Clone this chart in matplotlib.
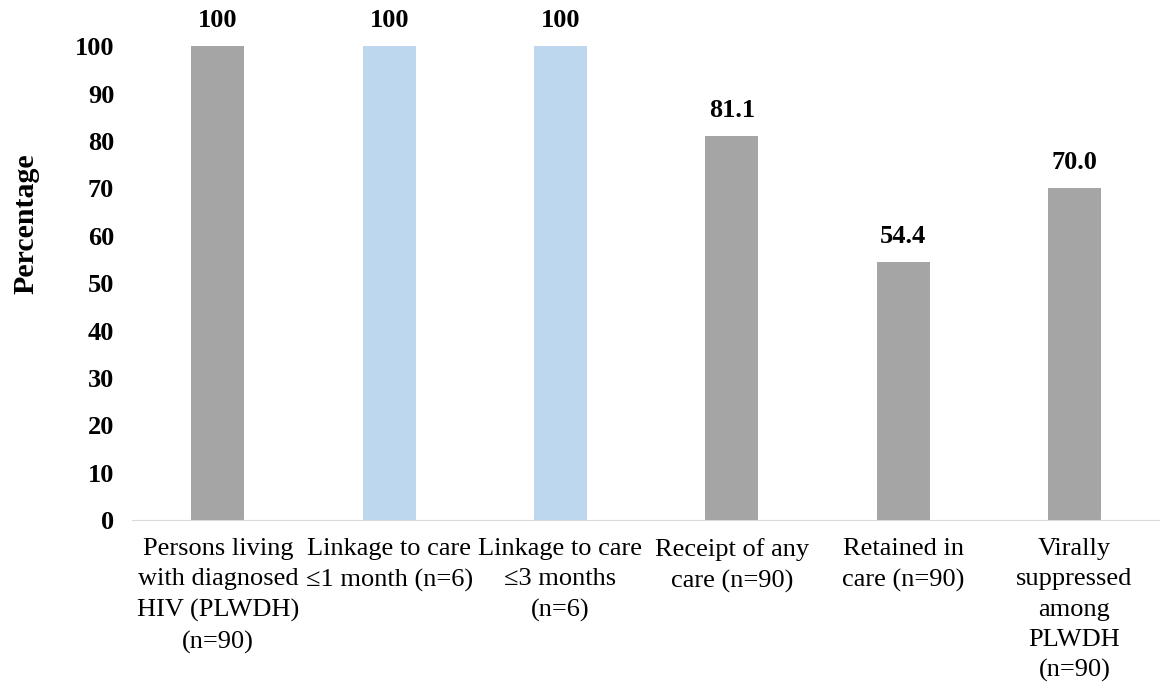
import numpy as np
import matplotlib.pyplot as plt

categories = ["Persons living\nwith diagnosed\nHIV (PLWDH)\n(n=90)",
              "Linkage to care\n\u22641 month (n=6)",
              "Linkage to care\n\u22643 months\n(n=6)",
              "Receipt of any\ncare (n=90)",
              "Retained in\ncare (n=90)",
              "Virally\nsuppressed\namong\nPLWDH\n(n=90)"]
values = [100, 100, 100, 81.1, 54.4, 70.0]
value_labels = ["100", "100", "100", "81.1", "54.4", "70.0"]
colors = ["#A5A5A5", "#BDD7EE", "#BDD7EE", "#A5A5A5", "#A5A5A5", "#A5A5A5"]

plt.rcParams["font.family"] = ["Liberation Serif", "DejaVu Serif"]

fig = plt.figure(figsize=(11.6, 6.89), dpi=100)
ax = fig.add_axes([0.114, 0.245, 0.886, 0.688])

x_pos = np.arange(len(categories))
bars = ax.bar(x_pos, values, width=0.31, color=colors)

for b, lab in zip(bars, value_labels):
    ax.text(b.get_x() + b.get_width() / 2, b.get_height() + 3.0, lab,
            ha="center", va="bottom", fontsize=19, fontweight="bold")

ax.set_xlim(-0.5, len(categories) - 0.5)
ax.set_ylim(0, 100)
ax.set_yticks(range(0, 101, 10))
ax.set_xticks(x_pos)
ax.set_xticklabels(categories, fontsize=19, linespacing=1.48)
for t in ax.get_yticklabels():
    t.set_fontweight("bold")
    t.set_fontsize(19)
ax.tick_params(axis="both", length=0)
ax.tick_params(axis="x", pad=13)
ax.tick_params(axis="y", pad=13)
ax.set_ylabel("Percentage", fontsize=21.5, fontweight="bold")
ax.yaxis.set_label_coords(-0.09, 0.625)

for s in ["top", "right", "left"]:
    ax.spines[s].set_visible(False)
ax.spines["bottom"].set_color("#D9D9D9")

plt.savefig("out.png")
